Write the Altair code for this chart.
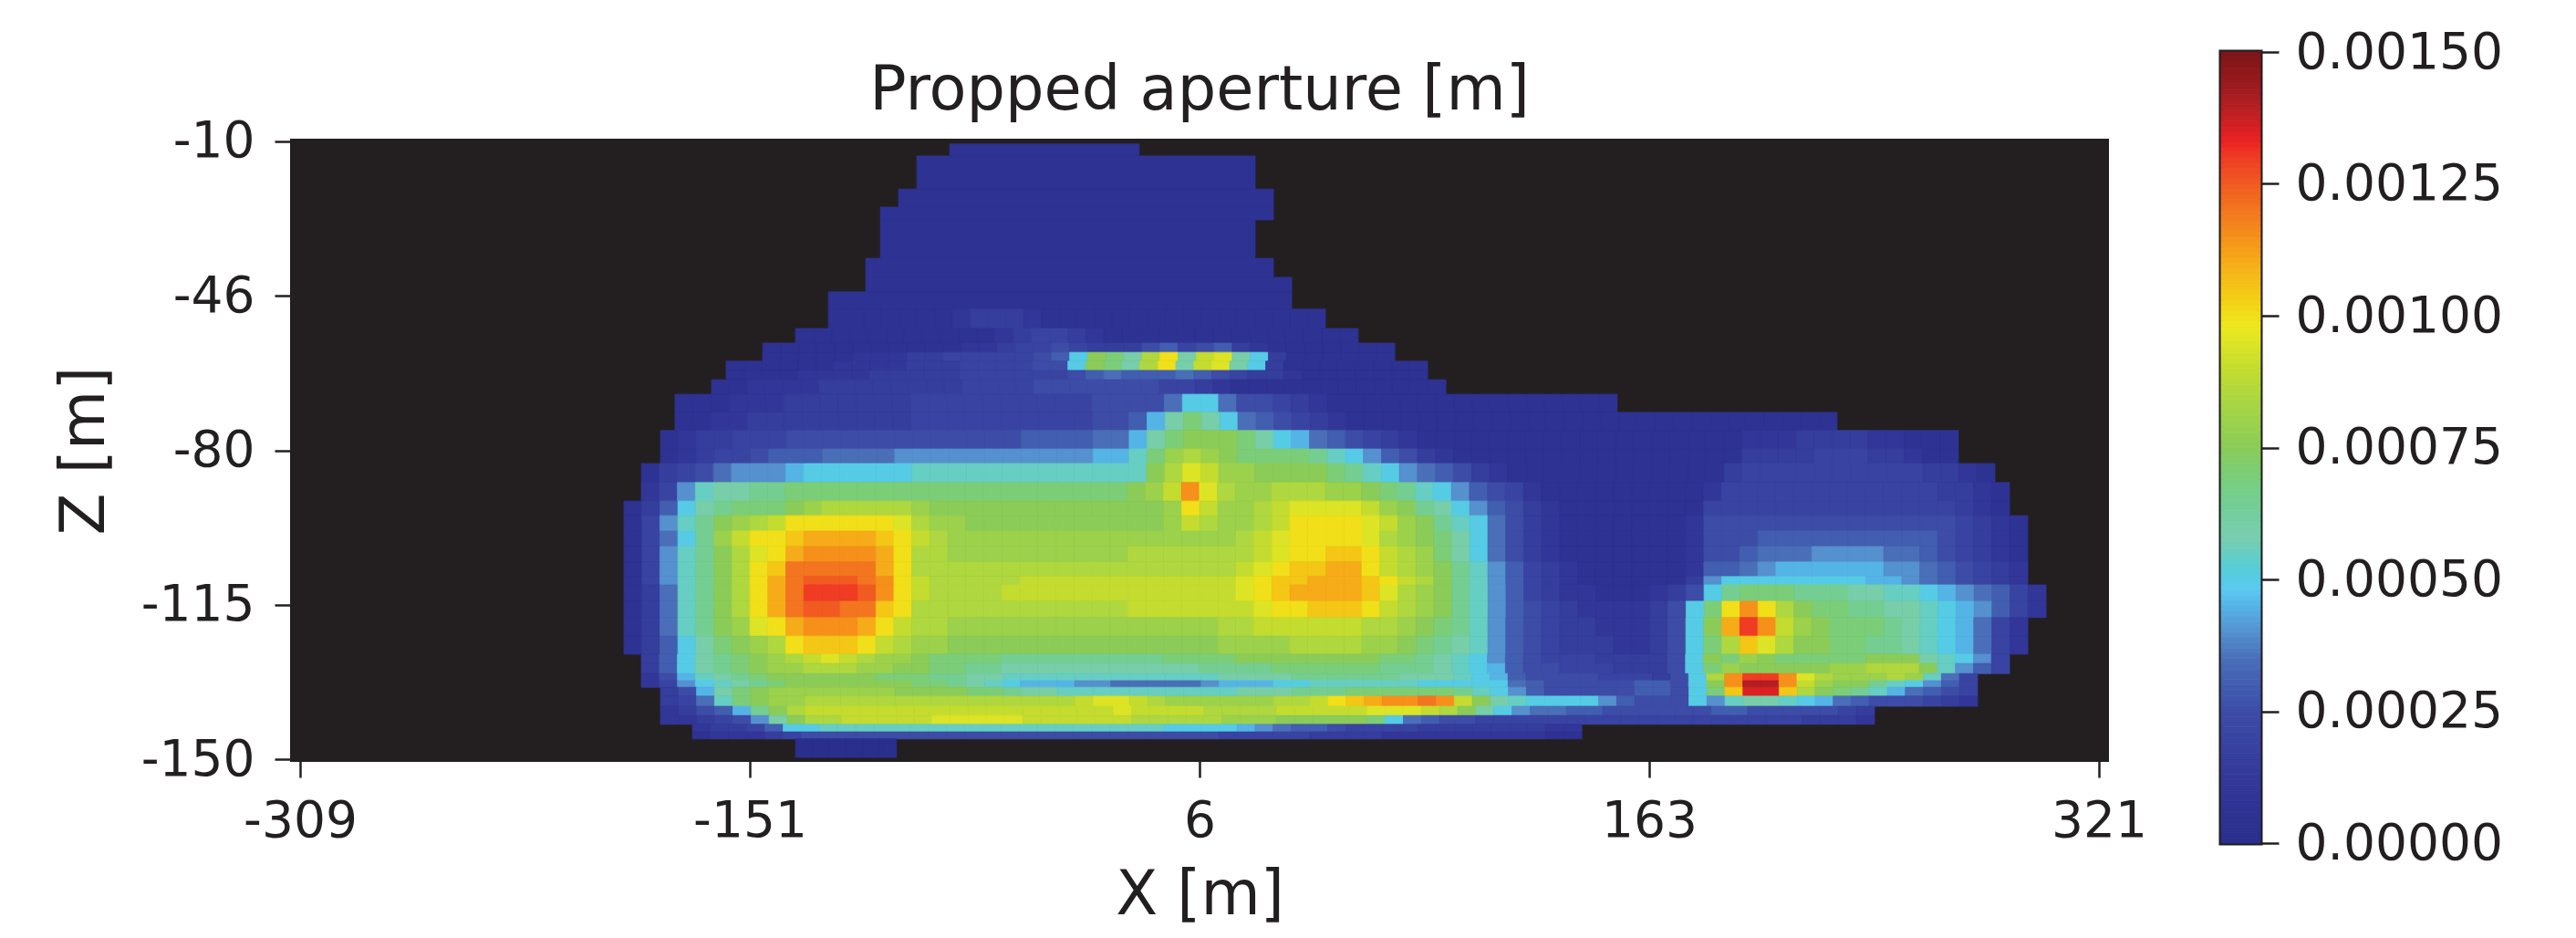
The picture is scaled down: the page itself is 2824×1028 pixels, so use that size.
import altair as alt
import pandas as pd

LEVELS = "0123456789abcdefghijklmnopqrstu"   # one character = 0.00005 m of aperture
LEVEL_STEP = 0.00005

ROW_TOP = [-10.6,-13.3,-20.8,-24.9,-27.8,-36.5,-40.8,-44.1,-48.0,-52.4,-55.7,-57.8,-59.8,-61.9,-64.0,-67.3,-71.4,-75.5,-79.7,-83.0,-87.3,-91.5,
           -94.8,-98.3,-101.8,-105.3,-108.6,-110.5,-114.2,-117.9,-122.1,-126.2,-128.3,-130.6,-132.2,-133.7,-135.7,-138.0,-140.1,-142.1,-143.8,-145.4]
ROW_BOTTOM = [-13.3,-20.8,-24.9,-27.8,-36.5,-40.8,-44.1,-48.0,-52.4,-55.7,-57.8,-59.8,-61.9,-64.0,-67.3,-71.4,-75.5,-79.7,-83.0,-87.3,-91.5,-94.8,
              -98.3,-101.8,-105.3,-108.6,-110.5,-114.2,-117.9,-122.1,-126.2,-128.3,-130.6,-132.2,-133.7,-135.7,-138.0,-140.1,-142.1,-143.8,-145.4,-149.6]
ROW_LEFT = [-81.5,-93.0,-99.4,-105.8,-105.8,-110.9,-110.9,-124.0,-124.0,-135.5,-147.0,-147.0,-159.8,-159.8,-164.9,-177.7,-177.7,-182.8,-182.8,-189.5,-189.5,-195.6,
            -195.6,-195.6,-195.6,-195.6,-195.6,-195.6,-195.6,-195.6,-195.6,-189.5,-189.5,-189.5,-189.5,-182.8,-182.8,-182.8,-182.8,-171.6,-171.6,-135.5]
ROW_RIGHT = [-15.1,25.5,31.9,31.9,25.5,31.9,38.3,38.3,50.1,61.6,74.4,74.4,85.9,85.9,92.3,152.3,229.3,271.8,271.8,284.6,289.7,289.7,
             296.1,296.1,296.1,296.1,296.1,302.5,302.5,296.1,296.1,289.7,289.7,278.5,278.5,278.5,278.5,242.4,242.4,139.9,139.9,-100.1]
ROW_VALUES = [
 "1",
 "1",
 "1",
 "1",
 "1",
 "1",
 "1",
 "1",
 "1111111 23332 1111111111111111",
 "11111111111 234432 11111111111111",
 "1111111111 1223445 43335 6456 321111111",
 "1111122233444445 6afechkcijca3 111111",
 "111111222233344445 5afechkcijca 311111111",
 "111122223333344444 456766676543 321111111",
 "1122223333 3333444455 5555544321 1111111111 1",
 "1112223333 3334444444 4445555 7aa755 432 1111111111111111",
 "1122333333 3334444444 444556 9ceca76543 2 111111111111111111111111111",
 "12334 4455555555 55555666677 9cefffec a9765432 111111111111111111 222333322 111",
 "12344 5666777788 88888888899 beghgfeeeedba 86532 1111111111111111 333344433 211",
 "134578889 aaaaaabbbbbbbbbbbb bfhjiggffffedba 876532 111111111111 344444444443321",
 "248bccddeeee eeeeeeeeeeeeeeef ginjhgghhhggfedba86542 1111111112 4444444444443321",
 "136acdeeefghhhhhg ffffffffffff fgkigghijjjjigfdca86532 11111111 44444444444444321",
 "148bdfghik kkkkkjhggf ffffffffff gihgghikkk kjigfdba75 3211111112 555555555555554321",
 "147adgikkl mmmmlkihgg gggggggggg gggghijkkk kjhgfeca75 3211111112 555666666666654321",
 "148bdfhjkm nnnnmkhhgg gggggggghh hhhhhijkkl lkihgeca75 3211111112 556777888877654321",
 "148bdfhklo oooomkhhhh hhhhhhhhhh hhhhijkllm mkihgfdb86 4321111112 667899999988765432",
 "148bdfhkmo ppponkihhh hhiiiiiiii iiiijkllmm mlkihfdb86 4321111113 8aaaaaaaa998765432",
 "137bdfhkmo qqqpnkihhh hiiiiiiiii iiiijklmmm mljhgfdb86 4322111235 adeeedddccbba987642",
 "137bdfhkmo ppoolkhhhh hhhhhhhhii iiiiijkkll lkihgfdb86 5432222 35a eknkhfeeddccba98642",
 "137bdfgjkm nnnmkihhgg gggggggggg ggghhiiiii ihhgfedb86 5433222 35a fmqnigfeeedcba9742",
 "136acefghk lllkihggff ffffffffff fffgggghhh hggfedcb86 5433322 35a ehljhffeeddcba9742",
 "36acdefgh ijihggfeee eddddddddd eeeeffffff ffeedcba86 5444333 35a fegfeeeeefffcba84",
 "36acdefgg hhhggffeed dccccccccc ccddddeeee eedddcba96 5544433 35a egfffffgghhhfb864",
 "259bcdeff ffffeeeddc cbbbbbbbbb bbbccccddd dddcccba96 5555444 35a hnqqnjhggghgb74",
 "248abcdef ffffffeedc ba99988777 778999aabb bbbbaaaaa7 6555556 65a fnssnigffdba864",
 "359cefgg gggggffffe edccbbbbbb bbbbcccddd eeeeeedba8 6555556 65a elrrlhfedb97654",
 "347befgg hhhhhhhhhh hhhhhijjih gggggghhik lmnnonifcb aaaa865 55a 8bccba976555432",
 "2356 9dfh iiiiiiiiii iiiiiiijii iihhhhiiii ijjjihfca8 7766555555 665555543",
 "2234 58cf hhiiiiijjj jjiiiiiihh hhhgggffff fea7655444 4444444444 444443332",
 "23346 aabbb bbbbbbbbbbbbbbb baaaa987665 4444333333322",
 "12223 45555555555555555555 55554444433 3322222222211",
 "000000",
]

COLOR_STOPS = [0, 0.00012, 0.00025, 0.00035, 0.0004, 0.00048, 0.00058, 0.00075, 0.0009, 0.00098, 0.00108, 0.00118, 0.00127, 0.00133, 0.00141, 0.0015]
COLOR_RANGE = ["#2a2e8c", "#33389a", "#3d4ca6", "#4a6fb8", "#5590cf", "#5cc9f1", "#7bcdaf", "#8bcb58", "#c4dc2f", "#ede91f",
               "#f5b71a", "#f47f20", "#f04e23", "#ed2224", "#aa1e22", "#7c1517"]

X_TICKS = [-309, -151.5, 6, 163.5, 321]
Z_TICKS = [-10, -45, -80, -115, -150]
BAR_TICKS = [0, 0.00025, 0.0005, 0.00075, 0.001, 0.00125, 0.0015]
INK = "#231f20"
FONT = "DejaVu Sans"

records = []
for top, bottom, left, right, text in zip(ROW_TOP, ROW_BOTTOM, ROW_LEFT, ROW_RIGHT, ROW_VALUES):
    chars = text.replace(" ", "")
    step = (right - left) / len(chars)
    for i, ch in enumerate(chars):
        records.append({"x0": left + i * step, "x1": left + (i + 1) * step, "z0": top, "z1": bottom,
                        "aperture": LEVELS.index(ch) * LEVEL_STEP})
cells = pd.DataFrame(records)

color_scale = alt.Scale(domain=COLOR_STOPS, range=COLOR_RANGE, clamp=True)

main = alt.Chart(cells).mark_rect(strokeWidth=0.8).encode(
    x=alt.X("x0:Q", scale=alt.Scale(domain=[-312.2, 324.2], nice=False, zero=False),
            axis=alt.Axis(values=X_TICKS, title="X [m]", grid=False, domain=False, tickSize=18, tickWidth=2.5,
                          tickColor=INK, labelFontSize=55, titleFontSize=67, labelFont=FONT, titleFont=FONT,
                          titleFontWeight="normal", labelColor=INK, titleColor=INK, labelPadding=21, titlePadding=21,
                          labelFlush=False, labelOverlap=False,
                          labelExpr="'' + (datum.value < 0 ? ceil(datum.value) : floor(datum.value))")),
    x2="x1:Q",
    y=alt.Y("z0:Q", scale=alt.Scale(domain=[-150.4, -9.6], nice=False, zero=False),
            axis=alt.Axis(values=Z_TICKS, title="Z [m]", grid=False, domain=False, tickSize=18, tickWidth=2.5,
                          tickColor=INK, labelFontSize=55, titleFontSize=67, labelFont=FONT, titleFont=FONT,
                          titleFontWeight="normal", labelColor=INK, titleColor=INK, labelPadding=22, titlePadding=27,
                          labelOverlap=False,
                          labelExpr="datum.value == -45 ? '-46' : '' + datum.value")),
    y2="z1:Q",
    color=alt.Color("aperture:Q", scale=color_scale, legend=None),
    stroke=alt.Stroke("aperture:Q", scale=color_scale, legend=None),
).properties(
    width=1992, height=681,
    view=alt.ViewBackground(fill=INK, stroke=INK, strokeWidth=2),
    title=alt.TitleParams(text="Propped aperture [m]", fontSize=67, font=FONT, fontWeight="normal", color=INK,
                          anchor="middle", offset=-6),
)

spacer = alt.Chart(pd.DataFrame({"blank": [0]})).mark_point(opacity=0).encode(
    x=alt.value(0), y=alt.value(0)
).properties(width=1992, height=1, view=alt.ViewBackground(stroke=None))

left_panel = alt.vconcat(spacer, main, spacing=4)

ramp_values = [i * 0.00001 for i in range(150)]
ramp = pd.DataFrame({"lo": ramp_values, "hi": [v + 0.00001 for v in ramp_values], "mid": [v + 0.000005 for v in ramp_values]})

bar = alt.Chart(ramp).mark_rect(strokeWidth=0.8).encode(
    y=alt.Y("lo:Q", scale=alt.Scale(domain=[0, 0.0015], nice=False),
            axis=alt.Axis(orient="right", values=BAR_TICKS, title=None, format=".5f", grid=False, domain=False,
                          tickSize=20, tickWidth=2.5, tickColor=INK, labelFontSize=55, labelFont=FONT, labelColor=INK,
                          labelPadding=18, labelOverlap=False, labelLimit=400)),
    y2="hi:Q",
    color=alt.Color("mid:Q", scale=color_scale, legend=None),
    stroke=alt.Stroke("mid:Q", scale=color_scale, legend=None),
).properties(width=43, height=867, view=alt.ViewBackground(stroke=INK, strokeWidth=5))

chart = alt.hconcat(left_panel, bar, spacing=77).properties(
    padding={"left": 50, "top": 19, "right": 0, "bottom": 0}, background="white"
)
chart.save("out.html", embed_options={"renderer": "svg", "actions": False})
